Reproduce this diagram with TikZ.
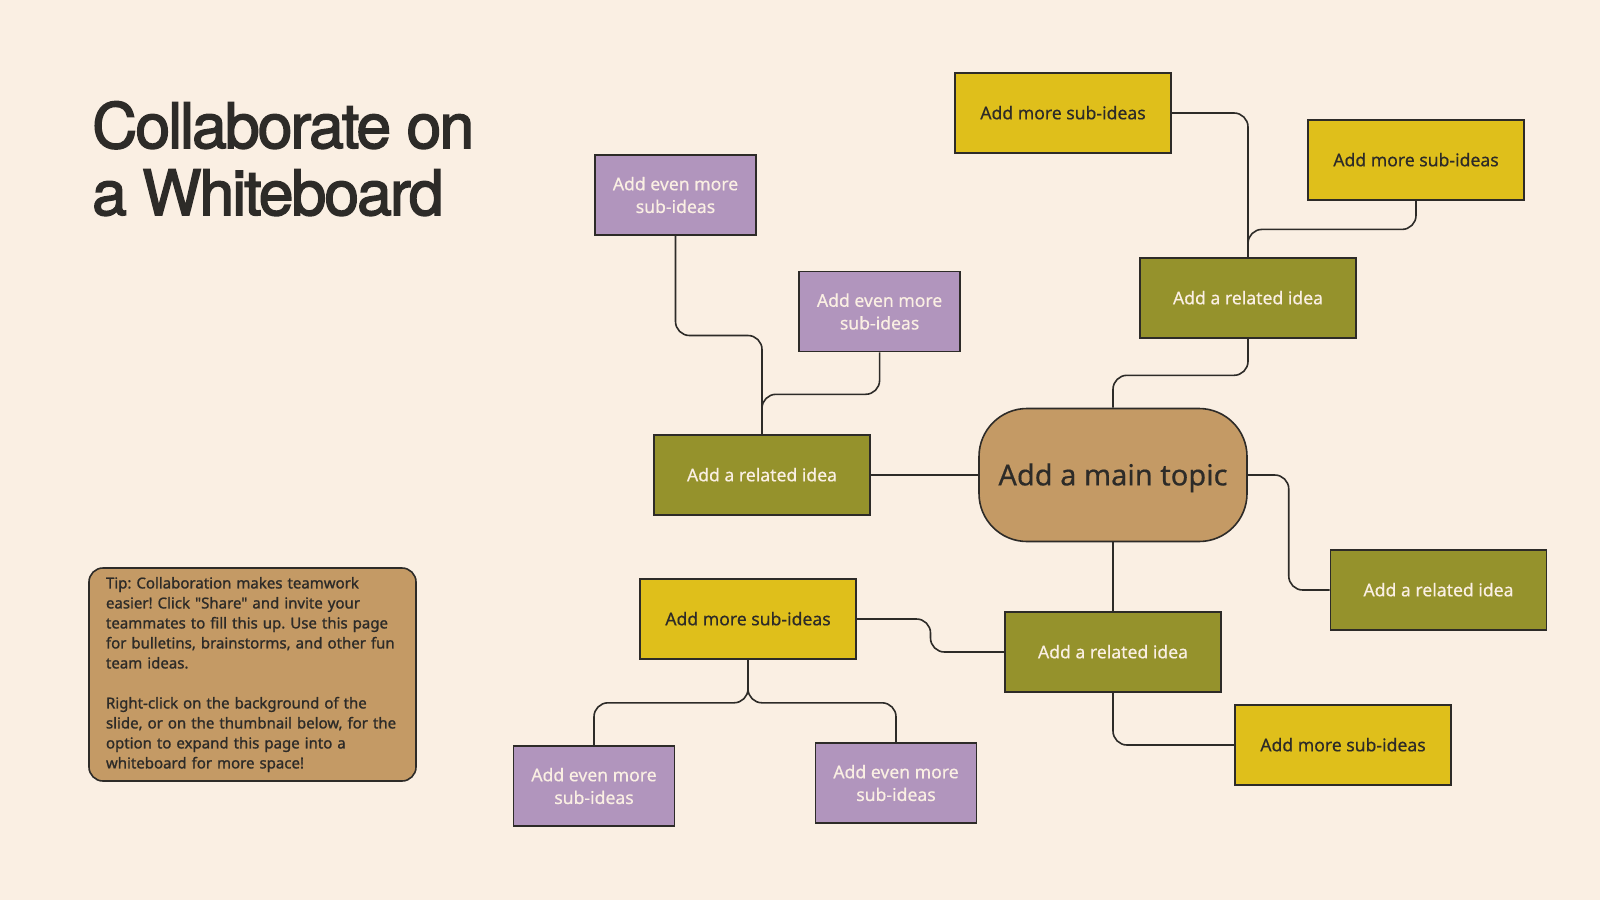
\documentclass[tikz,border=0pt]{standalone}
\usepackage{fontspec}
\setmainfont{Noto Sans}
\newfontfamily\titlefont[LetterSpace=-3.1,FakeBold=2.4]{TeX Gyre Heros}
\newfontfamily\tipfont[FakeBold=1.2]{Noto Sans}
\newfontfamily\boxfont[FakeBold=0.4]{Noto Sans}
\usetikzlibrary{calc}
\definecolor{bgc}{HTML}{FAEFE3}
\definecolor{ylw}{HTML}{DFBF1B}
\definecolor{olv}{HTML}{95922C}
\definecolor{prp}{HTML}{B195BD}
\definecolor{tan}{HTML}{C49A65}
\definecolor{ink}{HTML}{2D2B28}
\definecolor{lighttext}{HTML}{FAEFE3}
\tikzset{
  boxbase/.style={draw=ink, line width=1.6pt, inner sep=0pt, minimum height=80pt, align=center,
    font=\boxfont\fontsize{17.6}{22.7}\selectfont},
  single/.style={text height=12.6pt, text depth=0pt},
  ybox/.style={boxbase, single, fill=ylw, text=ink, minimum width=216pt},
  obox/.style={boxbase, single, fill=olv, text=lighttext, minimum width=216pt},
  pbox/.style={boxbase, fill=prp, text=lighttext, minimum width=161pt},
  mainbox/.style={draw=ink, line width=1.6pt, fill=tan, text=ink, rounded corners=48pt,
    minimum width=268pt, minimum height=133pt, inner sep=0pt, text height=20.7pt, text depth=0pt,
    font=\boxfont\fontsize{29}{34}\selectfont},
  tipbox/.style={draw=ink, line width=1.6pt, fill=tan, text=ink, rounded corners=14pt,
    minimum width=327pt, minimum height=213pt, inner xsep=17pt, text width=293pt, align=left,
    font=\tipfont\fontsize{15}{20}\selectfont\frenchspacing},
  conn/.style={draw=ink, line width=1.6pt, rounded corners=14pt},
  titletext/.style={anchor=base west, inner sep=0pt, text=ink, font=\titlefont\fontsize{62.5}{67}\selectfont}
}
\begin{document}
\begin{tikzpicture}[x=1pt,y=-1pt]
\fill[bgc] (0,0) rectangle (1600,900);
\useasboundingbox (0,0) rectangle (1600,900);

% title
\node[titletext] (t1) at (92,148) {Collaborate on};
\node[titletext] (t2) at (92,215) {a Whiteboard};

% tip
\node[tipbox] (tip) at (252.5,674.5) {Tip: Collaboration makes teamwork\\
easier! Click \symbol{34}Share\symbol{34} and invite your\\
teammates to fill this up. Use this page\\
for bulletins, brainstorms, and other fun\\
team ideas.\\[20pt]
Right-click on the background of the\\
slide, or on the thumbnail below, for the\\
option to expand this page into a\\
whiteboard for more space!};

% nodes
\node[ybox] (YT1) at (1063,113) {Add more sub-ideas};
\node[ybox] (YT2) at (1416,160) {Add more sub-ideas};
\node[obox] (RTR) at (1248,298) {Add a related idea};
\node[pbox] (P1) at (675.5,195) {Add even more\\sub-ideas};
\node[pbox] (P2) at (879.6,311.5) {Add even more\\sub-ideas};
\node[obox] (RL) at (762,475) {Add a related idea};
\node[mainbox] (M) at (1113,475) {Add a main topic};
\node[obox] (RR) at (1438.5,590) {Add a related idea};
\node[ybox] (YBL) at (748,619) {Add more sub-ideas};
\node[obox] (RB) at (1113,652) {Add a related idea};
\node[ybox] (YBR) at (1343,745) {Add more sub-ideas};
\node[pbox] (PBL) at (594,786) {Add even more\\sub-ideas};
\node[pbox] (PBR) at (896,783) {Add even more\\sub-ideas};

% bend points
\path (YT2.south) ++(0,28.6) coordinate (b1);
\path (RTR.south) ++(0,36.5) coordinate (b2);
\path (P1.south) ++(0,99.7) coordinate (b3);
\path (P2.south) ++(0,42) coordinate (b4);
\path (YBL.south) ++(0,43) coordinate (b5);
\coordinate (b6) at ($(YBL.east)!0.5!(RB.west)$);
\coordinate (b7) at ($(M.east)!0.5!(RR.west)$);

% connectors
\draw[conn] (YT1.east) -| (RTR.north);
\draw[conn] (YT2.south) -- (b1) -| (RTR.north);
\draw[conn] (RTR.south) -- (b2) -| (M.north);
\draw[conn] (P1.south) -- (b3) -| (RL.north);
\draw[conn] (P2.south) -- (b4) -| (RL.north);
\draw[conn] (RL.east) -- (M.west);
\draw[conn] (M.east) -- (M.east -| b7) -- (RR.west -| b7) -- (RR.west);
\draw[conn] (M.south) -- (RB.north);
\draw[conn] (RB.west) -- (RB.west -| b6) -- (YBL.east -| b6) -- (YBL.east);
\draw[conn] (RB.south) |- (YBR.west);
\draw[conn] (YBL.south) -- (b5) -| (PBL.north);
\draw[conn] (YBL.south) -- (b5) -| (PBR.north);
\end{tikzpicture}
\end{document}
